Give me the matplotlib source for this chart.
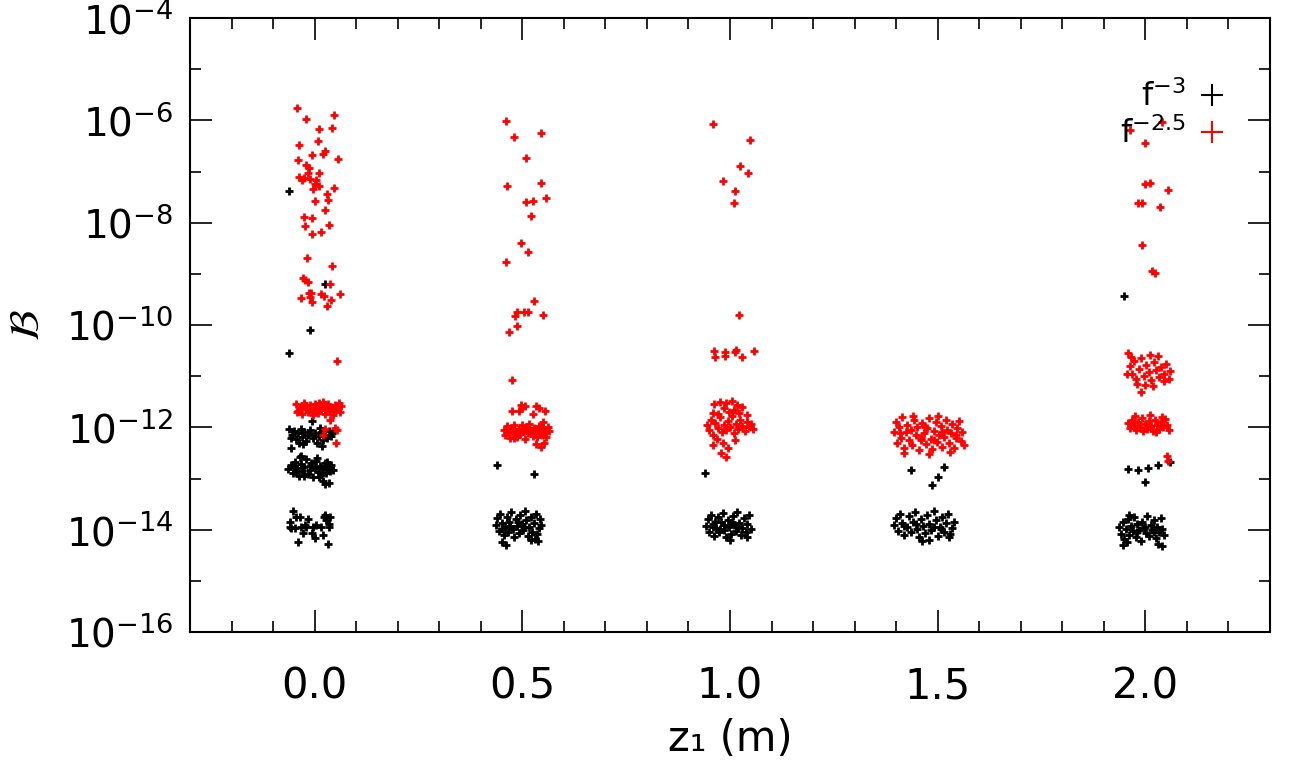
import numpy as np
import matplotlib
matplotlib.use("Agg")
import matplotlib.pyplot as plt
from matplotlib.lines import Line2D
from matplotlib.ticker import FixedLocator, NullFormatter

# (z1, log10 B) pairs, grouped by column
# ---- f^-3 (black) ----
black_z00 = [(-0.061, -7.39), (0.026, -9.19), (-0.010, -10.09), (-0.061, -10.55),
             # upper blob
             (-0.062, -12.03), (-0.055, -12.15), (-0.050, -12.08), (-0.045, -12.22), (-0.040, -12.12),
             (-0.034, -12.04), (-0.030, -12.18), (-0.025, -12.10), (-0.020, -12.26), (-0.015, -12.14),
             (-0.010, -12.06), (-0.005, -12.20), (0.000, -12.12), (0.005, -12.30), (0.010, -12.17),
             (0.015, -12.09), (0.020, -12.24), (0.025, -12.14), (0.030, -12.20), (0.035, -12.08),
             (0.040, -12.16), (0.043, -12.12), (-0.058, -12.20), (-0.028, -12.32), (0.012, -12.02),
             (-0.007, -11.87), (-0.057, -12.40), (0.018, -12.36), (-0.038, -12.30),
             # middle blob
             (-0.064, -12.82), (-0.058, -12.74), (-0.052, -12.90), (-0.047, -12.68), (-0.043, -12.80),
             (-0.038, -12.95), (-0.034, -12.72), (-0.030, -12.86), (-0.025, -12.78), (-0.021, -12.62),
             (-0.017, -12.92), (-0.012, -12.84), (-0.008, -12.70), (-0.004, -12.98), (0.000, -12.80),
             (0.004, -12.66), (0.008, -12.88), (0.012, -12.76), (0.016, -12.94), (0.020, -12.82),
             (0.024, -12.70), (0.028, -12.90), (0.032, -12.78), (0.036, -12.86), (0.040, -12.74),
             (0.044, -12.84), (-0.035, -12.58), (-0.033, -12.56), (0.005, -12.60), (0.020, -13.04),
             (0.034, -13.08), (0.026, -13.11), (-0.050, -12.78), (-0.010, -12.76), (0.030, -12.68),
             (-0.026, -12.96), (0.010, -12.98), (-0.045, -12.88),
             # bottom blob
             (-0.052, -13.63), (-0.060, -13.84), (-0.056, -13.97), (-0.041, -14.25), (-0.027, -14.07),
             (-0.006, -14.07), (0.002, -14.17), (0.020, -14.10), (0.032, -14.27), (0.024, -13.71),
             (0.035, -13.88), (-0.016, -13.80), (-0.036, -13.76), (0.004, -13.91), (-0.024, -13.91),
             (-0.044, -13.75), (-0.032, -13.94), (0.016, -13.94), (0.028, -13.81), (0.035, -13.94),
             (-0.004, -13.94), (-0.020, -13.94), (-0.060, -13.94), (-0.048, -13.97), (0.036, -13.75),
             (0.022, -13.75)]

black_z05 = [(0.438, -12.74), (0.528, -12.91),
             (0.436, -13.90), (0.440, -13.78), (0.444, -14.02), (0.447, -13.70), (0.451, -13.86),
             (0.455, -14.10), (0.458, -13.95), (0.462, -13.75), (0.466, -14.05), (0.469, -13.84),
             (0.473, -13.66), (0.477, -13.98), (0.480, -14.14), (0.484, -13.80), (0.488, -13.92),
             (0.491, -14.06), (0.495, -13.72), (0.499, -13.88), (0.502, -14.00), (0.506, -13.63),
             (0.510, -13.82), (0.513, -14.12), (0.517, -13.94), (0.521, -13.76), (0.524, -14.04),
             (0.528, -13.86), (0.532, -13.70), (0.535, -14.08), (0.539, -13.96), (0.543, -13.80),
             (0.546, -13.90), (0.452, -14.25), (0.460, -14.30), (0.520, -14.20), (0.530, -14.18),
             (0.537, -14.22), (0.490, -13.85), (0.505, -13.95), (0.470, -13.92), (0.450, -13.98)]

black_z10 = [(0.940, -12.89),
             (0.942, -13.92), (0.946, -13.80), (0.950, -14.05), (0.954, -13.72), (0.958, -13.88),
             (0.962, -14.12), (0.966, -13.96), (0.970, -13.76), (0.974, -14.04), (0.978, -13.84),
             (0.982, -13.68), (0.986, -14.00), (0.990, -14.15), (0.994, -13.82), (0.998, -13.94),
             (1.002, -14.08), (1.006, -13.74), (1.010, -13.90), (1.014, -14.02), (1.018, -13.66),
             (1.022, -13.86), (1.026, -14.10), (1.030, -13.96), (1.034, -13.78), (1.038, -14.04),
             (1.042, -13.88), (1.046, -13.72), (1.050, -13.98), (0.960, -13.95), (0.985, -13.90),
             (1.000, -14.20), (1.020, -13.95), (0.975, -13.98), (1.040, -14.15), (0.965, -13.85),
             (1.005, -13.85)]

black_z15 = [(1.436, -12.83), (1.516, -12.78), (1.500, -12.98), (1.487, -13.12),
             (1.395, -13.90), (1.400, -13.78), (1.405, -14.02), (1.410, -13.70), (1.415, -13.86),
             (1.420, -14.10), (1.425, -13.95), (1.430, -13.74), (1.435, -14.05), (1.440, -13.84),
             (1.445, -13.66), (1.450, -13.98), (1.455, -14.14), (1.460, -13.80), (1.465, -13.92),
             (1.470, -14.06), (1.475, -13.72), (1.480, -13.88), (1.485, -14.00), (1.490, -13.63),
             (1.495, -13.82), (1.500, -14.12), (1.505, -13.94), (1.510, -13.76), (1.515, -14.04),
             (1.520, -13.86), (1.525, -13.70), (1.530, -14.08), (1.535, -13.96), (1.540, -13.84),
             (1.418, -13.93), (1.448, -13.88), (1.478, -14.20), (1.508, -13.98), (1.528, -14.15),
             (1.462, -14.22), (1.492, -13.95)]

black_z20 = [(1.949, -9.43),
             (1.957, -12.81), (1.983, -12.83), (2.007, -12.79), (2.031, -12.74), (2.000, -13.07),
             (2.060, -12.68),
             (1.937, -13.95), (1.941, -14.08), (1.945, -13.85), (1.949, -14.18), (1.953, -13.98),
             (1.957, -13.80), (1.961, -14.10), (1.965, -13.92), (1.969, -14.02), (1.973, -13.76),
             (1.977, -14.14), (1.981, -13.88), (1.985, -14.00), (1.989, -14.22), (1.993, -13.84),
             (1.997, -13.96), (2.001, -14.06), (2.005, -13.74), (2.009, -14.12), (2.013, -13.90),
             (2.017, -14.00), (2.021, -13.82), (2.025, -14.16), (2.029, -13.94), (2.033, -14.04),
             (2.037, -13.78), (2.041, -13.98), (2.045, -14.10), (1.945, -14.30), (1.955, -14.25),
             (2.030, -14.28), (2.040, -14.32), (1.960, -13.72), (2.000, -13.95), (2.020, -14.05),
             (1.980, -14.05)]

# ---- f^-2.5 (red) ----
red_z00 = [(-0.042, -5.75), (0.047, -5.89), (-0.020, -5.97), (0.011, -6.16), (0.043, -6.14),
           (0.009, -6.40), (-0.037, -6.48), (-0.006, -6.67), (0.024, -6.59), (0.020, -6.66),
           (-0.039, -6.77), (0.057, -6.75), (-0.020, -6.88), (-0.014, -6.93), (0.011, -7.02),
           (-0.015, -7.03), (-0.037, -7.11), (-0.031, -7.17), (-0.026, -7.12), (-0.010, -7.15),
           (0.003, -7.17), (0.001, -7.24), (0.011, -7.29), (-0.003, -7.34), (0.047, -7.32),
           (0.029, -7.43), (0.000, -7.57), (0.031, -7.55), (0.026, -7.75), (-0.025, -7.88),
           (-0.006, -7.90), (-0.022, -8.06), (0.034, -8.04), (-0.006, -8.22), (0.016, -8.18),
           (-0.019, -8.70), (0.043, -8.84), (-0.027, -9.09), (-0.022, -9.13), (-0.016, -9.15),
           (0.036, -9.19), (0.060, -9.39), (-0.034, -9.47), (-0.014, -9.38), (-0.008, -9.38),
           (-0.012, -9.45), (0.016, -9.40), (0.022, -9.43), (0.039, -9.51), (-0.007, -9.56),
           (0.030, -9.63), (0.055, -10.70),
           # band
           (-0.045, -11.55), (-0.040, -11.68), (-0.034, -11.60), (-0.030, -11.74), (-0.026, -11.52),
           (-0.021, -11.64), (-0.017, -11.70), (-0.012, -11.57), (-0.008, -11.66), (-0.004, -11.76),
           (0.000, -11.54), (0.004, -11.62), (0.008, -11.71), (0.012, -11.58), (0.016, -11.66),
           (0.020, -11.50), (0.024, -11.73), (0.028, -11.61), (0.032, -11.55), (0.036, -11.68),
           (0.040, -11.63), (0.044, -11.75), (0.048, -11.56), (0.052, -11.66), (0.056, -11.60),
           (0.060, -11.70), (0.063, -11.58), (-0.036, -11.63), (-0.002, -11.69), (0.026, -11.66),
           (0.046, -11.62), (-0.024, -11.58), (0.010, -11.53), (0.058, -11.52), (-0.043, -11.70),
           (0.036, -11.86), (0.026, -12.03), (0.020, -12.15), (0.048, -12.01), (0.055, -12.05),
           (0.052, -12.30)]

red_z05 = [(0.460, -6.01), (0.546, -6.24), (0.481, -6.32), (0.510, -6.73), (0.544, -7.22),
           (0.462, -7.28), (0.558, -7.51), (0.525, -7.57), (0.508, -7.59), (0.520, -7.86),
           (0.496, -8.39), (0.513, -8.57), (0.460, -8.76), (0.527, -9.54), (0.486, -9.74),
           (0.482, -9.82), (0.505, -9.75), (0.513, -9.74), (0.549, -9.80), (0.488, -10.01),
           (0.469, -10.13), (0.474, -11.07),
           (0.474, -11.69), (0.496, -11.56), (0.500, -11.63), (0.492, -11.69), (0.506, -11.58),
           (0.533, -11.58), (0.541, -11.63), (0.554, -11.69), (0.526, -11.73),
           (0.455, -12.05), (0.459, -12.15), (0.462, -11.98), (0.466, -12.10), (0.470, -12.20),
           (0.473, -12.02), (0.477, -12.12), (0.481, -11.95), (0.484, -12.08), (0.488, -12.18),
           (0.492, -12.03), (0.495, -12.13), (0.499, -11.96), (0.503, -12.07), (0.506, -12.22),
           (0.510, -12.00), (0.514, -12.11), (0.517, -11.93), (0.521, -12.05), (0.525, -12.16),
           (0.528, -12.01), (0.532, -12.10), (0.536, -12.19), (0.539, -11.97), (0.543, -12.06),
           (0.547, -12.14), (0.550, -12.02), (0.554, -12.09), (0.558, -12.18), (0.561, -12.00),
           (0.565, -12.08), (0.468, -12.04), (0.497, -12.09), (0.523, -12.12), (0.545, -12.00),
           (0.512, -12.06), (0.480, -12.20), (0.535, -12.05), (0.549, -11.90), (0.532, -12.33),
           (0.545, -12.38), (0.553, -12.31)]

red_z10 = [(0.958, -6.07), (1.048, -6.38), (1.023, -6.89), (1.043, -7.02), (0.983, -7.18),
           (1.012, -7.39), (1.010, -7.61), (1.022, -9.80),
           (0.961, -10.50), (0.964, -10.62), (0.988, -10.53), (0.988, -10.61), (1.014, -10.48),
           (1.011, -10.53), (1.028, -10.62), (1.058, -10.50),
           (0.962, -11.55), (0.975, -11.50), (0.990, -11.52), (1.004, -11.48), (1.018, -11.56),
           (0.985, -11.62), (1.010, -11.66), (1.030, -11.60),
           (0.945, -11.95), (0.950, -12.05), (0.955, -11.85), (0.960, -12.15), (0.965, -11.92),
           (0.970, -12.02), (0.975, -11.80), (0.980, -12.10), (0.985, -11.96), (0.990, -12.06),
           (0.995, -11.88), (1.000, -12.00), (1.005, -11.78), (1.010, -12.12), (1.015, -11.93),
           (1.020, -12.03), (1.025, -11.86), (1.030, -11.97), (1.035, -12.08), (1.040, -11.90),
           (1.045, -12.00), (1.050, -11.94), (1.055, -12.04), (0.958, -11.72), (0.972, -11.74),
           (0.998, -11.70), (1.022, -11.72), (1.040, -11.76), (0.968, -12.22), (0.982, -12.30),
           (0.995, -12.40), (0.978, -12.50), (0.990, -12.58), (1.012, -12.25), (0.960, -12.35)]

red_z15 = [(1.395, -12.10), (1.399, -11.90), (1.403, -12.30), (1.407, -12.00), (1.411, -12.20),
           (1.415, -11.80), (1.419, -12.40), (1.423, -12.10), (1.427, -11.95), (1.431, -12.25),
           (1.435, -12.05), (1.439, -12.35), (1.443, -11.85), (1.447, -12.15), (1.451, -12.00),
           (1.455, -12.45), (1.459, -12.25), (1.463, -11.92), (1.467, -12.12), (1.471, -12.32),
           (1.475, -12.02), (1.479, -11.82), (1.483, -12.22), (1.487, -12.42), (1.491, -12.08),
           (1.495, -11.90), (1.499, -12.28), (1.503, -12.15), (1.507, -11.98), (1.511, -12.38),
           (1.515, -12.18), (1.519, -11.86), (1.523, -12.05), (1.527, -12.30), (1.531, -12.12),
           (1.535, -11.94), (1.539, -12.40), (1.543, -12.20), (1.547, -12.02), (1.551, -11.88),
           (1.555, -12.26), (1.559, -12.10), (1.563, -12.34), (1.420, -12.50), (1.480, -12.52),
           (1.530, -12.48), (1.440, -11.78), (1.500, -11.78), (1.460, -12.20), (1.510, -12.10),
           (1.470, -12.00), (1.545, -12.15), (1.410, -12.12), (1.490, -12.25)]

red_z20 = [(1.964, -6.19), (2.039, -6.04), (2.000, -6.44), (2.000, -7.24), (2.010, -7.22),
           (2.055, -7.36), (1.983, -7.62), (1.991, -7.62), (2.036, -7.70), (1.992, -8.44),
           (2.015, -8.95), (2.022, -8.98),
           (1.958, -10.55), (1.962, -10.80), (1.968, -10.95), (1.972, -10.70), (1.978, -11.05),
           (1.984, -10.85), (1.990, -10.65), (1.996, -11.00), (2.002, -10.78), (2.008, -10.92),
           (2.014, -11.08), (2.020, -10.72), (2.026, -10.88), (2.032, -11.02), (2.038, -10.82),
           (2.044, -10.96), (2.050, -10.76), (2.056, -11.06), (1.966, -10.62), (2.030, -10.60),
           (2.000, -11.18), (2.018, -11.20), (1.980, -11.15), (2.046, -11.10), (2.060, -10.90),
           (1.955, -10.95), (2.010, -10.58), (1.990, -11.30),
           (1.958, -11.92), (1.963, -12.02), (1.968, -11.85), (1.973, -11.96), (1.978, -12.06),
           (1.983, -11.90), (1.988, -11.99), (1.993, -11.82), (1.998, -11.94), (2.003, -12.04),
           (2.008, -11.88), (2.013, -11.97), (2.018, -12.08), (2.023, -11.86), (2.028, -11.95),
           (2.033, -12.03), (2.038, -11.90), (2.043, -11.99), (2.048, -11.84), (2.053, -11.95),
           (2.058, -12.05), (1.975, -11.78), (2.010, -11.76), (2.040, -11.80), (1.995, -12.08),
           (2.025, -12.10), (2.051, -12.56), (2.055, -12.66)]

x_ticks = [0.0, 0.5, 1.0, 1.5, 2.0]
y_major = [-16, -14, -12, -10, -8, -6, -4]
y_minor = [-15, -13, -11, -9, -7, -5]

black = np.array(black_z00 + black_z05 + black_z10 + black_z15 + black_z20)
red = np.array(red_z00 + red_z05 + red_z10 + red_z15 + red_z20)

fig = plt.figure(figsize=(12.9, 7.66), dpi=100)
ax = fig.add_axes([0.1473, 0.1749, 0.8372, 0.8016])

ax.plot(black[:, 0], 10.0 ** black[:, 1], ls="none", marker="+", ms=6, mew=2.0, color="black")
ax.plot(red[:, 0], 10.0 ** red[:, 1], ls="none", marker="+", ms=6, mew=2.0, color="red")

ax.set_yscale("log")
ax.set_xlim(-0.3, 2.3)
ax.set_ylim(1e-16, 1e-4)

ax.set_xticks(x_ticks)
ax.set_xticklabels(["%.1f" % v for v in x_ticks], fontsize=30)
ax.set_xticks(np.arange(-0.2, 2.3, 0.1), minor=True)
ax.yaxis.set_major_locator(FixedLocator([10.0 ** e for e in y_major]))
ax.yaxis.set_minor_locator(FixedLocator([10.0 ** e for e in y_minor]))
ax.yaxis.set_minor_formatter(NullFormatter())
ax.set_yticklabels([r"$10^{%d}$" % e for e in y_major], fontsize=28)

ax.tick_params(which="both", direction="in", top=True, right=True, width=1.2)
ax.tick_params(which="major", length=16)
ax.tick_params(which="minor", length=8)
ax.tick_params(axis="x", which="major", pad=24)
ax.tick_params(axis="y", which="major", pad=12)
for s in ax.spines.values():
    s.set_linewidth(1.5)

ax.set_xlabel("z₁ (m)", fontsize=30, labelpad=8)
ax.set_ylabel(r"$\mathcal{B}$", fontsize=30)
ax.yaxis.set_label_coords(-0.132, 0.5)

handles = [Line2D([], [], ls="none", marker="+", ms=16, mew=1.5, color="black"),
           Line2D([], [], ls="none", marker="+", ms=16, mew=1.5, color="red")]
ax.legend(handles, [r"f$^{-3}$", r"f$^{-2.5}$"], loc="upper right", bbox_to_anchor=(0.98, 0.935),
          frameon=False, markerfirst=False, fontsize=23, handlelength=0.9, handletextpad=0.35,
          labelspacing=0.15, borderpad=0.2)

fig.savefig("out.png", dpi=100)
